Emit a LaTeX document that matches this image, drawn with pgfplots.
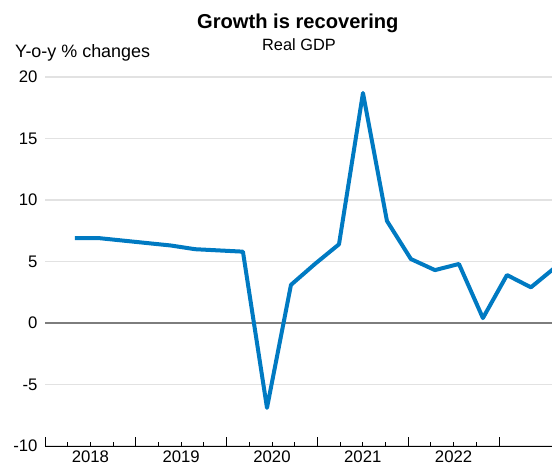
\documentclass[border=0pt]{standalone}
\usepackage{pgfplots}
\pgfplotsset{compat=1.18}
\usepackage{fontspec}
\setmainfont{Liberation Sans}
\definecolor{gdpblue}{RGB}{0,122,194}
\definecolor{gridgray}{RGB}{226,226,226}
\definecolor{zerogray}{RGB}{125,125,125}
\begin{document}
\begin{tikzpicture}
\begin{axis}[
  scale only axis,
  width=507bp, height=369bp,
  xmin=2018, xmax=2023.584,
  ymin=-10, ymax=20,
  axis lines*=left,
  y axis line style={draw=none},
  x axis line style={black, line width=0.8bp},
  xtick={2018,2019,2020,2021,2022,2023},
  x tick label as interval,
  xticklabels={2018,2019,2020,2021,2022,},
  minor x tick num=3,
  tick align=inside,
  major tick length=9bp,
  minor tick length=4.5bp,
  x tick style={black, line width=0.8bp},
  ytick={-10,-5,0,5,10,15,20},
  yticklabels={-10,-5,0,5,10,15,20},
  y tick style={draw=none},
  ymajorgrids,
  major grid style={draw=gridgray, line width=1.2bp},
  /pgf/number format/assume math mode=true,
  tick label style={font=\fontsize{16.8}{18}\selectfont},
  yticklabel style={xshift=-4bp},
  xticklabel style={yshift=-1bp},
]
\addplot[zerogray, line width=2.8bp, forget plot] coordinates {(2018,0) (2023.584,0)};
\addplot[gdpblue, line width=4bp, line join=round] coordinates {
(2018.330,6.9) (2018.595,6.9) (2018.859,6.7) (2019.123,6.5)
(2019.387,6.3) (2019.652,6.0) (2019.916,5.9) (2020.180,5.8)
(2020.445,-6.9) (2020.709,3.1) (2020.973,4.8) (2021.238,6.4)
(2021.502,18.7) (2021.766,8.3) (2022.030,5.2) (2022.295,4.3)
(2022.559,4.8) (2022.823,0.4) (2023.088,3.9) (2023.352,2.9)
(2023.616,4.5)
};
\end{axis}
\node[anchor=base west, inner sep=0, font=\bfseries\fontsize{20.2}{22}\selectfont] at ([shift={(152bp,417.7bp)}]current axis.south west) {Growth is recovering};
\node[anchor=base west, inner sep=0, font=\fontsize{16.4}{18}\selectfont] at ([shift={(217bp,395.3bp)}]current axis.south west) {Real GDP};
\node[anchor=base west, inner sep=0, font=\fontsize{18}{20}\selectfont] at ([shift={(-30bp,388.5bp)}]current axis.south west) {Y-o-y \% changes};
\pgfresetboundingbox
\path[use as bounding box] (current axis.south west) ++(-45bp,-22bp) rectangle ++(552bp,468bp);
\end{tikzpicture}
\end{document}
